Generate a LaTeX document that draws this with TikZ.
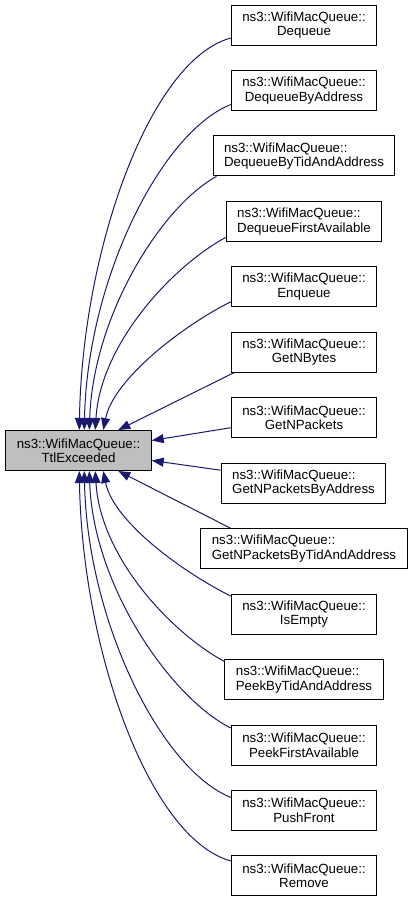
\documentclass[tikz,border=0pt]{standalone}
\usepackage{fontspec}
\setmainfont{Liberation Sans}
\usepackage{tikz}
\usetikzlibrary{arrows.meta}
\definecolor{edgeblue}{HTML}{191970}
\definecolor{nodegray}{HTML}{BFBFBF}

\begin{document}
\begin{tikzpicture}[x=1pt, y=1pt,
	fn/.style={draw=black, fill=white, line width=1pt, inner xsep=11pt, inner ysep=0pt, minimum height=40pt, align=center, font=\fontsize{13.3}{14.5}\selectfont},
	fnl/.style={fn, align=left},
	calledge/.style={draw=edgeblue, line width=1pt, -{Triangle[length=12pt, width=9pt]}}]
			\useasboundingbox (0,0) rectangle (413,-900);
			\node[fn, fill=nodegray] (ttl) at (78.5,-450.5) {ns3::WifiMacQueue::\\TtlExceeded};
			\node[fn] (dq) at (304,-25) {ns3::WifiMacQueue::\\Dequeue};
			\node[fn] (dqaddr) at (304,-90.5) {ns3::WifiMacQueue::\\DequeueByAddress};
			\node[fnl] (dqtid) at (304,-155.9) {ns3::WifiMacQueue::\\DequeueByTidAndAddress};
			\node[fnl] (dqfirst) at (304,-221.4) {ns3::WifiMacQueue::\\DequeueFirstAvailable};
			\node[fn] (enq) at (304,-286.8) {ns3::WifiMacQueue::\\Enqueue};
			\node[fn] (nbytes) at (304,-352.3) {ns3::WifiMacQueue::\\GetNBytes};
			\node[fn] (npk) at (304,-417.7) {ns3::WifiMacQueue::\\GetNPackets};
			\node[fnl] (npkaddr) at (303.5,-483.2) {ns3::WifiMacQueue::\\GetNPacketsByAddress};
			\node[fnl] (npktid) at (304,-548.6) {ns3::WifiMacQueue::\\GetNPacketsByTidAndAddress};
			\node[fn] (empty) at (304,-614.1) {ns3::WifiMacQueue::\\IsEmpty};
			\node[fnl] (peektid) at (304,-679.5) {ns3::WifiMacQueue::\\PeekByTidAndAddress};
			\node[fn] (peekfirst) at (304,-745) {ns3::WifiMacQueue::\\PeekFirstAvailable};
			\node[fn] (push) at (304,-810.4) {ns3::WifiMacQueue::\\PushFront};
			\node[fn] (rm) at (304,-875.9) {ns3::WifiMacQueue::\\Remove};
			\draw[calledge] ([yshift=-13pt]dq.west) .. controls +(-81,-22) and +(3,180) .. ([xshift=74pt]ttl.north west);
			\draw[calledge] ([yshift=-14pt]dqaddr.west) .. controls +(-70,-28) and +(3,150) .. ([xshift=79pt]ttl.north west);
			\draw[calledge] ([xshift=4pt]dqtid.south west) .. controls +(-55,-30) and +(4,115) .. ([xshift=84pt]ttl.north west);
			\draw[calledge] ([yshift=-16pt]dqfirst.west) .. controls +(-55,-30) and +(5,85) .. ([xshift=90pt]ttl.north west);
			\draw[calledge] ([yshift=-15pt]enq.west) .. controls +(-50,-25) and +(10,50) .. ([xshift=98pt]ttl.north west);
			\draw[calledge] ([xshift=3pt]nbytes.south west) -- ([xshift=113pt]ttl.north west);
			\draw[calledge] ([yshift=-10pt]npk.west) -- ([yshift=10pt]ttl.east);
			\draw[calledge] ([yshift=13pt]npkaddr.west) -- ([yshift=-10pt]ttl.east);
			\draw[calledge] ([xshift=30pt]npktid.north west) -- ([xshift=113pt]ttl.south west);
			\draw[calledge] ([yshift=18pt]empty.west) .. controls +(-50,25) and +(10,-50) .. ([xshift=98pt]ttl.south west);
			\draw[calledge] ([yshift=18pt]peektid.west) .. controls +(-55,30) and +(5,-85) .. ([xshift=90pt]ttl.south west);
			\draw[calledge] ([yshift=17pt]peekfirst.west) .. controls +(-60,30) and +(4,-115) .. ([xshift=84pt]ttl.south west);
			\draw[calledge] ([yshift=13pt]push.west) .. controls +(-70,28) and +(3,-150) .. ([xshift=79pt]ttl.south west);
			\draw[calledge] ([yshift=15pt]rm.west) .. controls +(-81,22) and +(3,-180) .. ([xshift=74pt]ttl.south west);
		\end{tikzpicture}
\end{document}
